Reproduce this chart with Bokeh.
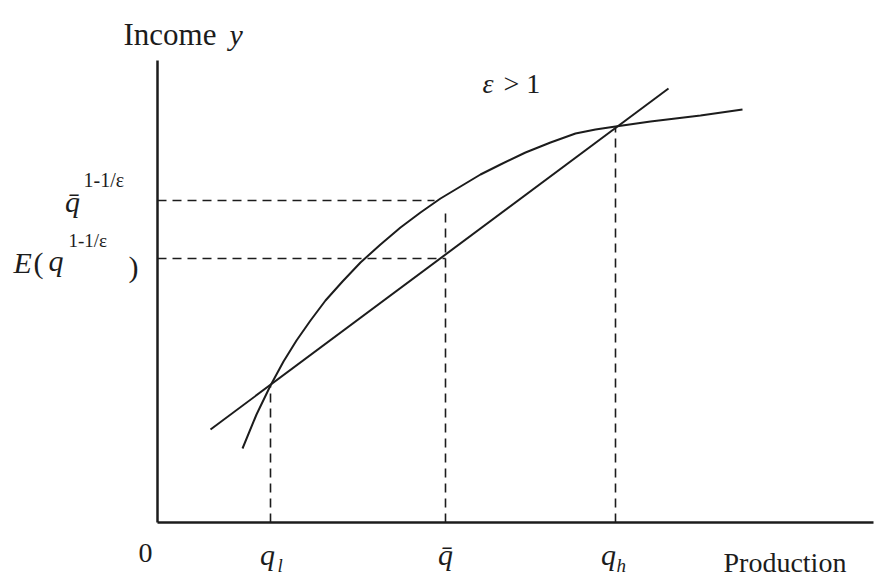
from bokeh.plotting import figure
from bokeh.models import Range1d
from bokeh.core.properties import value
from bokeh.embed import file_html
from bokeh.resources import INLINE

# Production levels on the horizontal axis
q_low = 11.3
q_mean = 28.8
q_high = 45.8

# Income levels
income_low = 13.7          # income at q_l (curve and chord meet)
income_high = 39.6         # income at q_h (curve and chord meet)
income_at_mean = 32.2      # q̄^(1-1/ε)
expected_income = 26.4     # E(q^(1-1/ε)), on the chord at q̄
mean_guide_top = 31.5      # top of the vertical guide at q̄
mean_curve_reach = 27.7    # where the q̄^(1-1/ε) guide meets the curve

# Concave income curve y = q^(1-1/ε)
curve_q = [8.5, 9.9, 11.3, 12.6, 13.9, 15.3, 16.8, 18.5, 20.3, 22.3, 24.3,
           26.3, 28.3, 30.3, 32.3, 34.3, 36.8, 39.3, 41.8, 43.8, 45.8,
           49.3, 54.3, 58.5]
curve_y = [7.4, 10.8, 13.7, 16.1, 18.2, 20.2, 22.2, 24.1, 26.0, 27.8, 29.5,
           31.0, 32.4, 33.6, 34.8, 35.8, 37.0, 38.0, 38.9, 39.3, 39.6,
           40.1, 40.7, 41.3]

# Straight chord through the two crossing points, extended
chord_q = [5.3, 51.1]
chord_y = [9.3, 43.4]

# Axis extents
x_axis_end = 71.6
y_axis_end = 46.2

INK = "#1c1c1c"
SERIF = "Liberation Serif"

p = figure(width=888, height=578,
           x_range=Range1d(-15.7, 73.1), y_range=Range1d(-5.6, 52.2),
           x_axis_type=None, y_axis_type=None,
           output_backend="svg", toolbar_location=None, min_border=0)
p.grid.visible = False
p.outline_line_color = None
p.background_fill_color = "white"
p.border_fill_color = "white"

# axes
p.line([0, x_axis_end], [0, 0], line_color=INK, line_width=2.5)
p.line([0, 0], [0, y_axis_end], line_color=INK, line_width=2.5)

# dashed guides
dash = "9 6"
p.line([q_low, q_low], [0, income_low], line_color=INK, line_width=1.6, line_dash=dash)
p.line([q_mean, q_mean], [0, mean_guide_top], line_color=INK, line_width=1.6, line_dash=dash)
p.line([q_high, q_high], [0, income_high], line_color=INK, line_width=1.6, line_dash=dash)
p.line([0, mean_curve_reach], [income_at_mean, income_at_mean],
       line_color=INK, line_width=1.6, line_dash=dash)
p.line([0, q_mean], [expected_income, expected_income],
       line_color=INK, line_width=1.6, line_dash=dash)

# income curve and chord
p.line(curve_q, curve_y, line_color=INK, line_width=2, line_join="round")
p.line(chord_q, chord_y, line_color=INK, line_width=2)


def put(x, y, s, size, italic=False, align="left", dx=0, dy=0):
    # dy is in screen pixels, positive moves the text down
    p.text(x=[x], y=[y], text=[s], x_offset=dx, y_offset=dy,
           text_font=value(SERIF), text_font_size=f"{size}px",
           text_font_style="italic" if italic else "normal",
           text_color=INK, text_align=align, text_baseline="alphabetic")


# axis titles
put(-3.4, 48.8, "Income", 31)
put(7.2, 48.8, "y", 30, italic=True)
put(56.6, -4.0, "Production", 28)
put(-1.2, -3.0, "0", 28, align="center")
put(32.5, 43.9, "ε", 28, italic=True)
put(34.6, 43.9, "> 1", 28)

# tick labels under the axis
put(q_low, -3.2, "q", 30, italic=True, align="center", dx=-3)
put(q_low, -4.3, "l", 19, italic=True, align="left", dx=7)
put(q_mean, -3.2, "q\u0304", 30, italic=True, align="center")
put(q_high, -3.2, "q", 30, italic=True, align="center", dx=-7)
put(q_high, -4.3, "h", 19, italic=True, align="left", dx=1)

# labels on the income axis
put(0, income_at_mean, "q\u0304", 30, italic=True, align="center", dx=-85, dy=1)
put(0, income_at_mean, "1-1/ε", 20, align="left", dx=-74, dy=-21)
put(0, expected_income, "E", 30, italic=True, align="left", dx=-144, dy=4)
put(0, expected_income, "(", 30, align="left", dx=-124, dy=4)
put(0, expected_income, "q", 30, italic=True, align="left", dx=-109, dy=2)
put(0, expected_income, "1-1/ε", 19, align="left", dx=-89, dy=-18)
put(0, expected_income, ")", 30, align="left", dx=-29, dy=8)

open("out.html", "w").write(file_html(p, INLINE))
